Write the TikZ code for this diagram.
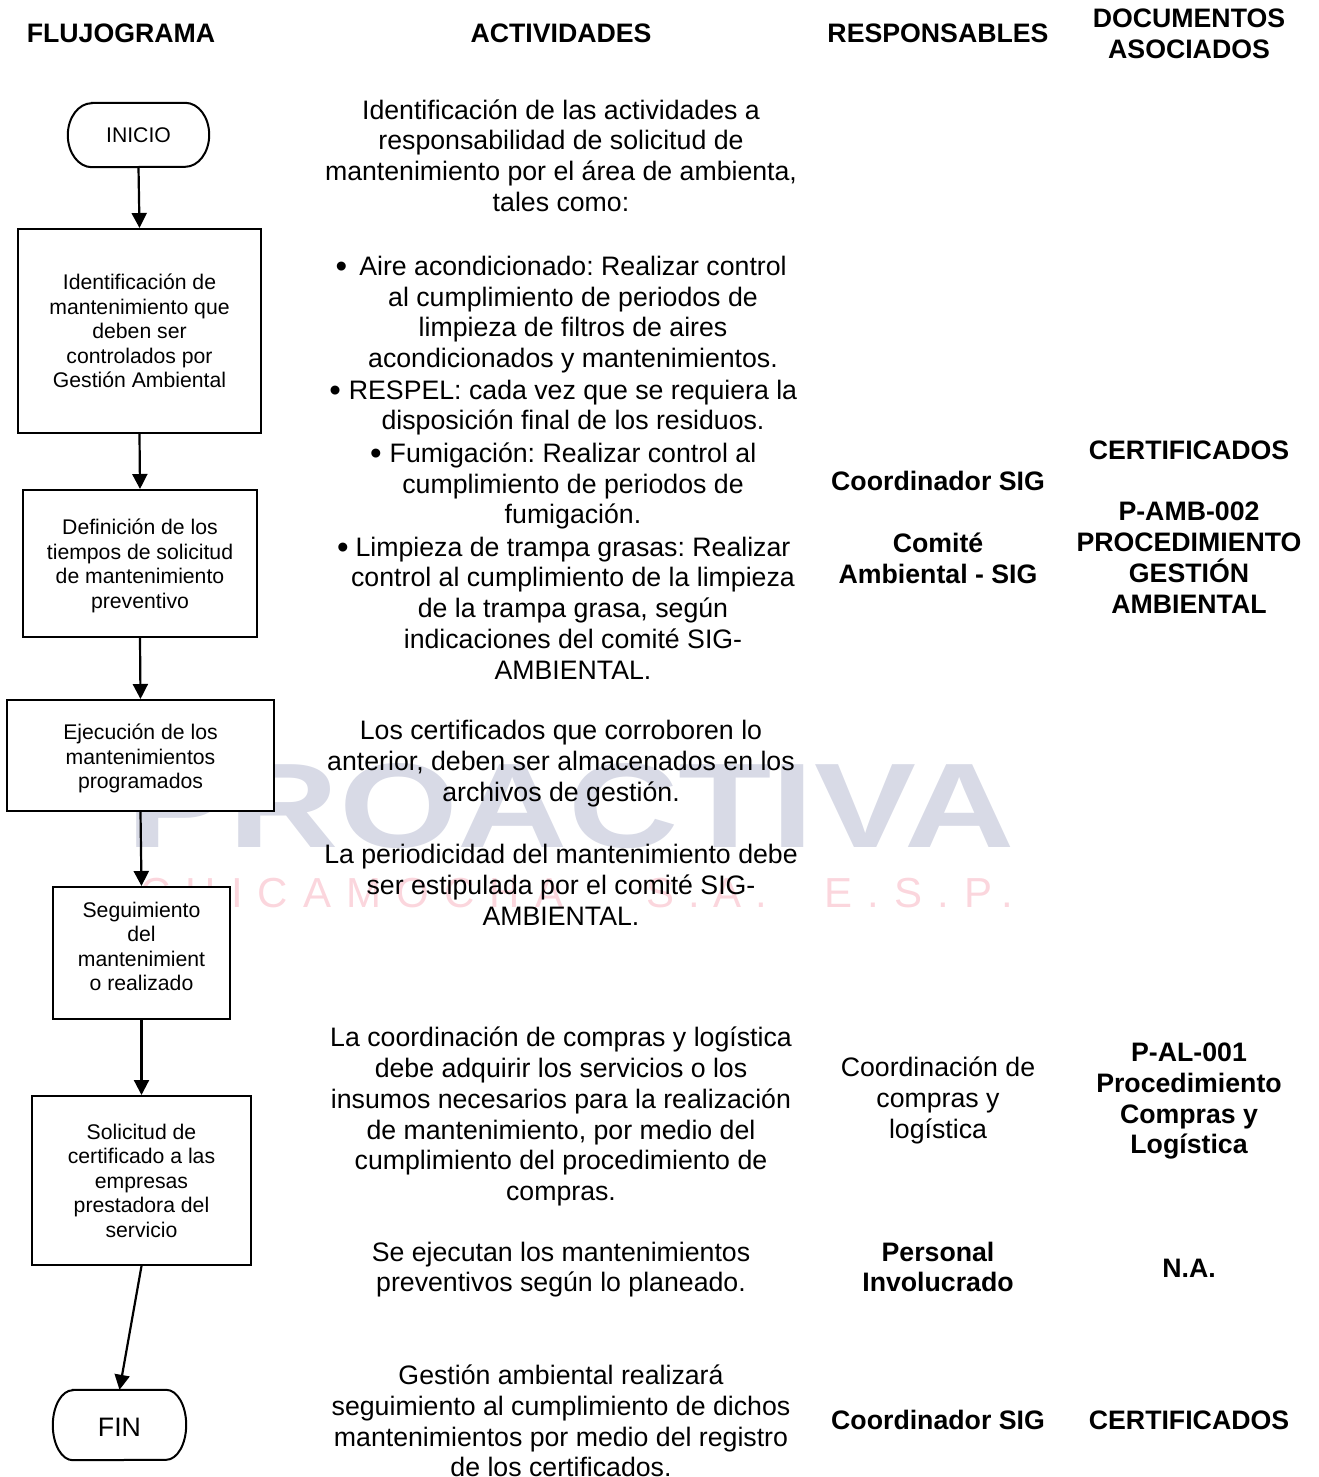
\documentclass[tikz,border=0pt]{standalone}
\usepackage{fontspec}
\usepackage{graphicx}
\setmainfont{Liberation Sans}
\usetikzlibrary{arrows.meta}
\frenchspacing
\definecolor{wmblue}{RGB}{216,218,230}
\definecolor{wmpink}{RGB}{251,214,221}
\newcommand{\bul}[1]{\llap{\raisebox{-2.4pt}{\fontsize{33}{30}\selectfont•}\hspace{#1}}}
\newcommand{\topgap}[1]{\rule{0pt}{#1}}
\newcommand{\stadium}[3]{\draw[line width=2pt] ([xshift=#2]#1.north west) -- ([xshift=-#2]#1.north east) arc[start angle=90,end angle=-90,x radius=#2,y radius=#3] -- ([xshift=#2]#1.south west) arc[start angle=270,end angle=90,x radius=#2,y radius=#3] -- cycle;}
\tikzset{
  txt/.style={align=center,inner sep=0pt,font=\fontsize{26.7}{30.75}\selectfont,execute at begin node=\strut,execute at end node=\strut},
  bold/.style={txt,font=\fontsize{26.7}{30.75}\selectfont\bfseries},
  boxtxt/.style={align=center,inner sep=0pt,font=\fontsize{21.2}{24.5}\selectfont},
  procbox/.style={boxtxt,draw=black,line width=2pt,fill=white,minimum width=#1},
  termbox/.style={boxtxt,inner sep=0pt},
  flow/.style={draw=black,line width=2.2pt,-{Triangle[length=15pt,width=15pt]}},
  wmsmall/.style={inner sep=0pt,anchor=base west,text=wmpink,font=\fontsize{42}{42}\selectfont}
}
\begin{document}
\begin{tikzpicture}[x=1pt,y=-1pt]
\useasboundingbox (0,0) rectangle (1319,1477);
% watermark
\node[inner sep=0pt,text=wmblue] (wm1) at (571,806) {\resizebox{888pt}{84pt}{\bfseries PROACTIVA}};
\node[wmsmall] (wm2) at (140,907) {\addfontfeature{LetterSpace=36}CHICAMOCHA};
\node[wmsmall] (wm3) at (646,907) {\addfontfeature{LetterSpace=33}S.A.};
\node[wmsmall] (wm4) at (824,907) {\addfontfeature{LetterSpace=36}E.S.P.};
% flow
\node[termbox,minimum width=141pt,minimum height=64pt] (inicio) at (138.5,135) {INICIO};
\stadium{inicio}{24pt}{32pt}
\node[procbox=243pt,minimum height=204pt] (b1) at (139.5,331) {Identificación de\\mantenimiento que\\deben ser\\controlados por\\Gestión Ambiental};
\node[procbox=234pt,minimum height=147pt] (b2) at (140,563.5) {\topgap{20.5pt}Definición de los\\tiempos de solicitud\\de mantenimiento\\preventivo};
\node[procbox=267pt,minimum height=111pt] (b3) at (140.5,755.5) {\topgap{21.5pt}Ejecución de los\\mantenimientos\\programados};
\node[procbox=177pt,minimum height=132pt] (b4) at (141.5,953) {Seguimiento\\del\\mantenimient\\o realizado\rule[-13pt]{0pt}{13pt}};
\node[procbox=219pt,minimum height=169pt] (b5) at (141.5,1180.5) {Solicitud de\\certificado a las\\empresas\\prestadora del\\servicio};
\node[termbox,minimum width=133pt,minimum height=70pt,font=\fontsize{26.7}{30}\selectfont] (fin) at (119.5,1425) {\topgap{23pt}FIN};
\stadium{fin}{20pt}{35pt}
\draw[flow] (inicio.south) -- (b1.north);
\draw[flow] (b1.south) -- (b2.north);
\draw[flow] (b2.south) -- (b3.north);
\draw[flow] (b3.south) -- (b4.north);
\draw[flow] (b4.south) -- (b5.north);
\draw[flow] (b5.south) -- (fin.north);
\begin{scope}[yshift=-4pt]
% headers
\node[bold] (h1) at (121,32) {FLUJOGRAMA};
\node[bold] (h2) at (561,32) {ACTIVIDADES};
\node[bold] (h3) at (938,32) {RESPONSABLES};
\node[bold] (h4) at (1189,34.5) {DOCUMENTOS\\ASOCIADOS};
% activities
\node[txt] (a1) at (561,156) {Identificación de las actividades a\\responsabilidad de solicitud de\\mantenimiento por el área de ambienta,\\tales como:};
\node[txt] (a2) at (573,312.5) {\bul{12pt}Aire acondicionado: Realizar control\\al cumplimiento de periodos de\\limpieza de filtros de aires\\acondicionados y mantenimientos.};
\node[txt] (a3) at (573,405.5) {\bul{8pt}RESPEL: cada vez que se requiera la\\disposición final de los residuos.};
\node[txt] (a4) at (573,484) {\bul{8pt}Fumigación: Realizar control al\\cumplimiento de periodos de\\fumigación.};
\node[txt] (a5) at (573,608.5) {\bul{7pt}Limpieza de trampa grasas: Realizar\\control al cumplimiento de la limpieza\\de la trampa grasa, según\\indicaciones del comité SIG-\\AMBIENTAL.};
\node[txt] (a6) at (561,761.5) {Los certificados que corroboren lo\\anterior, deben ser almacenados en los\\archivos de gestión.};
\node[txt] (a7) at (561,885.5) {La periodicidad del mantenimiento debe\\ser estipulada por el comité SIG-\\AMBIENTAL.};
\node[txt] (a8) at (561,1114.5) {La coordinación de compras y logística\\debe adquirir los servicios o los\\insumos necesarios para la realización\\de mantenimiento, por medio del\\cumplimiento del procedimiento de\\compras.};
\node[txt] (a9) at (561,1267.5) {Se ejecutan los mantenimientos\\preventivos según lo planeado.};
\node[txt,execute at end node={\rule[-6.5pt]{0pt}{0pt}}] (a10) at (561,1421.6) {Gestión ambiental realizará\\seguimiento al cumplimiento de dichos\\mantenimientos por medio del registro\\de los certificados.};
% responsables
\node[bold] (r1) at (938,528) {Coordinador SIG\\\mbox{}\\Comité\\Ambiental - SIG};
\node[txt] (r2) at (938,1098.5) {Coordinación de\\compras y\\logística};
\node[bold] (r3) at (938,1267.5) {Personal\\Involucrado};
\node[bold] (r4) at (938,1419) {Coordinador SIG};
% documentos
\node[bold] (d1) at (1189,527.5) {CERTIFICADOS\\\mbox{}\\P-AMB-002\\PROCEDIMIENTO\\GESTIÓN\\AMBIENTAL};
\node[bold] (d2) at (1189,1099) {P-AL-001\\Procedimiento\\Compras y\\Logística};
\node[bold] (d3) at (1189,1267) {N.A.};
\node[bold] (d4) at (1189,1419) {CERTIFICADOS};
\end{scope}
\end{tikzpicture}
\end{document}
